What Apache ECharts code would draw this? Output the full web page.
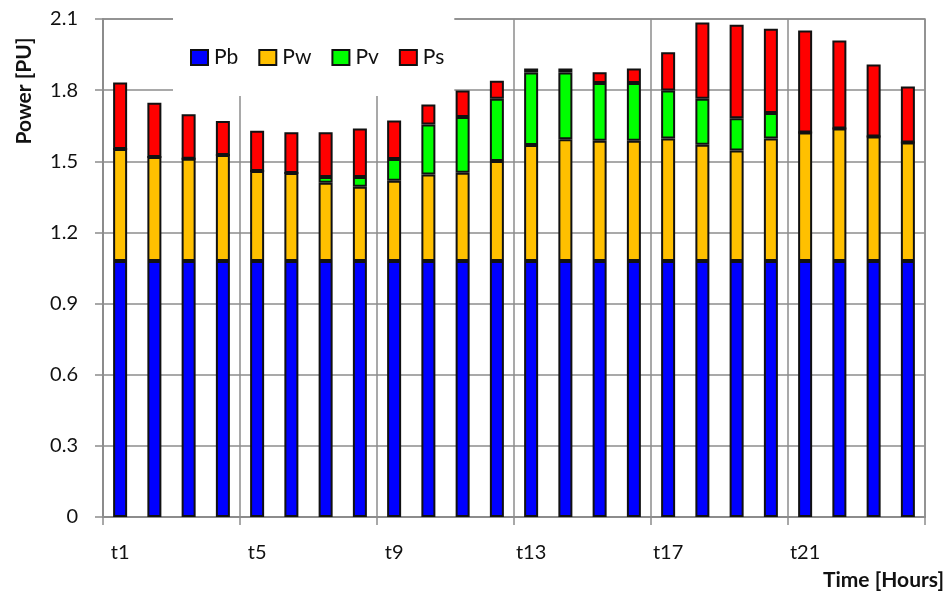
<!DOCTYPE html>
<html>
<head>
<meta charset="utf-8">
<script src="https://cdn.jsdelivr.net/npm/echarts@6/dist/echarts.min.js"></script>
<style>
  html, body { margin: 0; padding: 0; background: #fff; }
  #chart { width: 948px; height: 597px; }
</style>
</head>
<body>
<div id="chart"></div>
<script>
  // hourly categories t1..t24
  var hours = [];
  for (var i = 1; i <= 24; i++) hours.push('t' + i);

  // stacked power components [PU]
  var pb = [1.08, 1.08, 1.08, 1.08, 1.08, 1.08, 1.08, 1.08, 1.08, 1.08, 1.08, 1.08,
            1.08, 1.08, 1.08, 1.08, 1.08, 1.08, 1.08, 1.08, 1.08, 1.08, 1.08, 1.08];
  var pw = [0.472, 0.438, 0.431, 0.447, 0.379, 0.371, 0.330, 0.313, 0.338, 0.364, 0.372, 0.421,
            0.489, 0.513, 0.507, 0.507, 0.516, 0.490, 0.465, 0.516, 0.541, 0.558, 0.524, 0.499];
  var pv = [0, 0, 0, 0, 0, 0, 0.024, 0.041, 0.092, 0.211, 0.235, 0.263,
            0.305, 0.281, 0.243, 0.243, 0.202, 0.194, 0.136, 0.108, 0, 0, 0, 0];
  var ps = [0.280, 0.229, 0.187, 0.143, 0.170, 0.171, 0.188, 0.204, 0.162, 0.084, 0.112, 0.076,
            0.017, 0.017, 0.045, 0.061, 0.162, 0.321, 0.395, 0.355, 0.430, 0.371, 0.304, 0.236];

  var names = ['Pb', 'Pw', 'Pv', 'Ps'];
  var colors = ['#0000ff', '#ffc000', '#00ff00', '#ff0000'];
  var values = [pb, pw, pv, ps];

  var gray = '#8c8c8c';
  var font = 'Lato, "Open Sans", sans-serif';

  var chart = echarts.init(document.getElementById('chart'), null, { renderer: 'canvas' });

  var series = names.map(function (n, k) {
    return {
      name: n, type: 'bar', stack: 'p',
      data: values[k],
      barWidth: 14,
      itemStyle: { color: colors[k], borderColor: '#111', borderWidth: 2 }
    };
  });

  chart.setOption({
    animation: false,
    backgroundColor: '#fff',
    grid: {
      left: 103, right: 23, top: 19, bottom: 80,
      show: true, borderColor: gray, borderWidth: 1.5
    },
    legend: {
      data: names,
      left: 173, top: 18,
      padding: [29, 10, 28, 17],
      backgroundColor: '#fff',
      icon: 'rect',
      itemWidth: 17, itemHeight: 15, itemGap: 20,
      textStyle: { fontFamily: font, fontSize: 21, color: '#111', padding: [0, 0, 0, 1] }
    },
    xAxis: {
      type: 'category',
      data: hours,
      axisLine: { lineStyle: { color: gray, width: 2 } },
      axisTick: { show: true, interval: 3, length: 8, lineStyle: { color: gray, width: 1.5 } },
      axisLabel: { interval: 3, margin: 26, fontFamily: font, fontSize: 20, color: '#111' },
      splitLine: { show: true, interval: 3, lineStyle: { color: gray, width: 1.5 } }
    },
    yAxis: {
      type: 'value', min: 0, max: 2.1, interval: 0.3,
      axisLine: { show: true, lineStyle: { color: gray, width: 2 } },
      axisTick: { show: true, length: 8, lineStyle: { color: gray, width: 1.5 } },
      axisLabel: {
        margin: 25, fontFamily: font, fontSize: 20, color: '#111',
        formatter: function (v) { return v === 0 ? '0' : v.toFixed(1); }
      },
      splitLine: { show: true, lineStyle: { color: gray, width: 1.5 } }
    },
    series: series,
    graphic: [
      {
        type: 'text', x: 24, y: 91, rotation: Math.PI / 2,
        style: {
          text: 'Power [PU]', fill: '#111', align: 'center', verticalAlign: 'middle',
          font: 'bold 21px ' + font
        }
      },
      {
        type: 'text', right: 4, top: 570,
        style: { text: 'Time [Hours]', fill: '#111', font: 'bold 21px ' + font }
      }
    ]
  });
</script>
</body>
</html>
